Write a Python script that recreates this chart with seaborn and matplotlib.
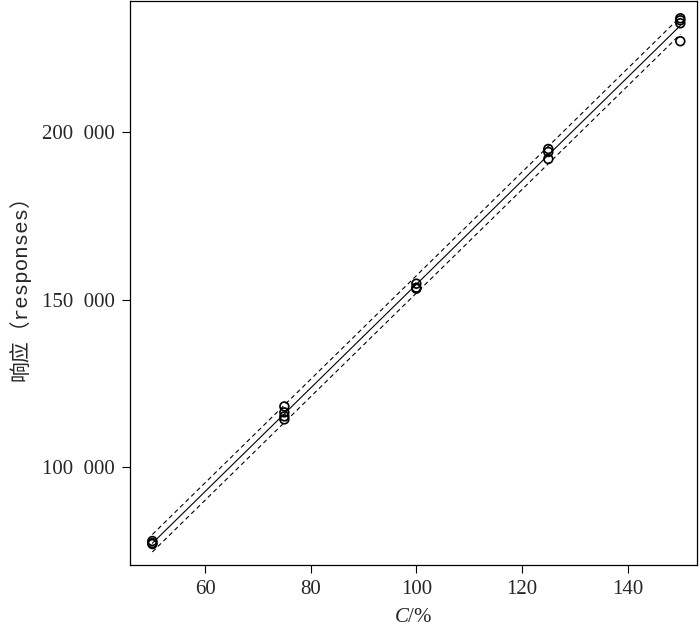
import numpy as np
import pandas as pd
import seaborn as sns
import matplotlib.pyplot as plt
from matplotlib.ticker import FuncFormatter

# dados
conc = [50, 50, 50,
        75, 75, 75, 75,
        100, 100, 100,
        125, 125, 125,
        150, 150, 150, 150]
resp = [78000, 77400, 77100,
        118150, 116370, 115180, 114290,
        154760, 153570, 153270,
        194940, 194050, 191960,
        233930, 233330, 232440, 227080]
band_half = 2600  # meia largura das linhas tracejadas

df = pd.DataFrame({"C": conc, "resp": resp})

# ajuste linear
x = df["C"].to_numpy(float)
y = df["resp"].to_numpy(float)
b1, b0 = np.polyfit(x, y, 1)
xs = np.linspace(x.min(), x.max(), 200)
ys = b0 + b1 * xs
fit = pd.DataFrame({"C": xs, "fit": ys, "lo": ys - band_half, "hi": ys + band_half})

sns.set_style("ticks")
plt.rcParams["font.family"] = ["Liberation Serif", "Noto Sans CJK SC"]
plt.rcParams["mathtext.fontset"] = "custom"
plt.rcParams["mathtext.it"] = "Liberation Serif:italic"

fig = plt.figure(figsize=(7, 6.35), dpi=100)
ax = fig.add_axes([0.186, 0.110, 0.81, 0.888])

sns.lineplot(data=fit, x="C", y="fit", ax=ax, color="black", linewidth=0.8)
sns.lineplot(data=fit, x="C", y="lo", ax=ax, color="black", linewidth=0.8, linestyle=(0, (4, 3)))
sns.lineplot(data=fit, x="C", y="hi", ax=ax, color="black", linewidth=0.8, linestyle=(0, (4, 3)))
sns.scatterplot(data=df, x="C", y="resp", ax=ax, marker="o", s=40,
                facecolors="none", edgecolor="black", linewidth=1.2)

ax.set_xlim(45.8, 153.2)
ax.set_ylim(70800, 239000)
ax.set_xticks([60, 80, 100, 120, 140])
ax.set_yticks([100000, 150000, 200000])
ax.yaxis.set_major_formatter(FuncFormatter(lambda v, p: f"{int(v):,}".replace(",", "  ")))
ax.tick_params(labelsize=15, length=6, width=0.8, color="black", pad=5)

for sp in ax.spines.values():
    sp.set_visible(True)
    sp.set_color("black")
    sp.set_linewidth(0.9)

ax.set_xlabel("$C$/%", fontsize=15, labelpad=6)
ax.set_ylabel("响应（responses）", fontsize=15, labelpad=8,
              family=["Liberation Mono", "Noto Sans CJK SC"])

fig.savefig("out.png", dpi=100)
